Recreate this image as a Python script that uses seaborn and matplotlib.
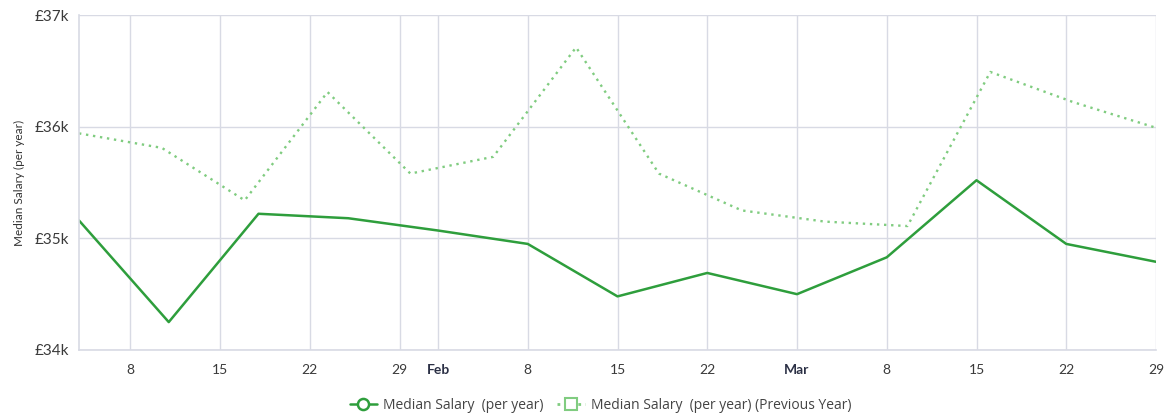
import matplotlib
matplotlib.use("Agg")
import matplotlib.pyplot as plt
from matplotlib.lines import Line2D
from matplotlib.ticker import FuncFormatter
import pandas as pd
import seaborn as sns

# --- data ---
weeks = pd.date_range("2025-01-04", "2025-03-29", freq="7D")
salary_now = [35.16, 34.25, 35.22, 35.18, 35.07, 34.95, 34.48, 34.69,
              34.50, 34.83, 35.52, 34.95, 34.79]
# previous year has 14 points spread over the same range
weeks_prev = pd.date_range("2025-01-04", "2025-03-29", periods=14)
salary_prev = [35.94, 35.81, 35.34, 36.31, 35.58, 35.73, 36.71, 35.58,
               35.25, 35.15, 35.11, 36.49, 36.22, 35.99]

tick_days = pd.to_datetime([
    "2025-01-08", "2025-01-15", "2025-01-22", "2025-01-29", "2025-02-01",
    "2025-02-08", "2025-02-15", "2025-02-22", "2025-03-01", "2025-03-08",
    "2025-03-15", "2025-03-22", "2025-03-29"])
tick_text = ["8", "15", "22", "29", "Feb", "8", "15", "22", "Mar", "8", "15", "22", "29"]

df_now = pd.DataFrame({"date": weeks, "salary": salary_now})
df_prev = pd.DataFrame({"date": weeks_prev, "salary": salary_prev})

# --- style ---
sns.set_theme(style="white")
plt.rcParams["font.family"] = ["Lato", "DejaVu Sans"]

green = "#2e9e3c"
green_light = "#80cc80"
grid_col = "#d8dae4"
text_col = "#3a3a3a"

fig = plt.figure(figsize=(11.68, 4.19), dpi=100)
ax = fig.add_axes([79 / 1168, 1 - 350 / 419, (1156 - 79) / 1168, (350 - 15) / 419])

sns.lineplot(data=df_prev, x="date", y="salary", ax=ax, color=green_light,
             linestyle=(0, (1, 2)), linewidth=1.7)
sns.lineplot(data=df_now, x="date", y="salary", ax=ax, color=green,
             linewidth=1.8)

ax.set_xlim(weeks[0], weeks[-1])
ax.set_ylim(34, 37)
ax.set_yticks([34, 35, 36, 37])
ax.yaxis.set_major_formatter(FuncFormatter(lambda v, p: f"£{v:.0f}k"))
ax.set_xticks(tick_days)
ax.set_xticklabels(tick_text)

ax.grid(True, color=grid_col, linewidth=1.0)
ax.set_axisbelow(True)
for s in ["top", "right"]:
    ax.spines[s].set_visible(False)
for s in ["left", "bottom"]:
    ax.spines[s].set_color(grid_col)
    ax.spines[s].set_linewidth(1.2)

ax.tick_params(axis="x", length=0, pad=10, labelsize=10, labelcolor=text_col)
ax.tick_params(axis="y", length=0, pad=7, labelsize=11, labelcolor=text_col)
for lbl in ax.get_xticklabels():
    if lbl.get_text() in ("Feb", "Mar"):
        lbl.set_fontweight("bold")
        lbl.set_color("#2b3045")

ax.set_xlabel("")
ax.set_ylabel("Median Salary (per year)", fontsize=8.5, color="#333333", labelpad=7)

handles = [
    Line2D([], [], color=green, linewidth=1.8, marker="o", markersize=8,
           markerfacecolor="white", markeredgewidth=1.8),
    Line2D([], [], color=green_light, linewidth=2.0, linestyle=(0, (1, 1.5)),
           marker="s", markersize=8, markerfacecolor="white", markeredgewidth=1.5),
]
labels = ["Median Salary  (per year)", "Median Salary  (per year) (Previous Year)"]
fig.legend(handles, labels, loc="lower center", bbox_to_anchor=(0.514, -0.015),
           ncol=2, frameon=False, handlelength=2.0, handletextpad=0.4,
           columnspacing=1.0, prop={"family": ["Open Sans", "DejaVu Sans"], "size": 10},
           labelcolor="#444444")

fig.savefig("out.png", dpi=100)
